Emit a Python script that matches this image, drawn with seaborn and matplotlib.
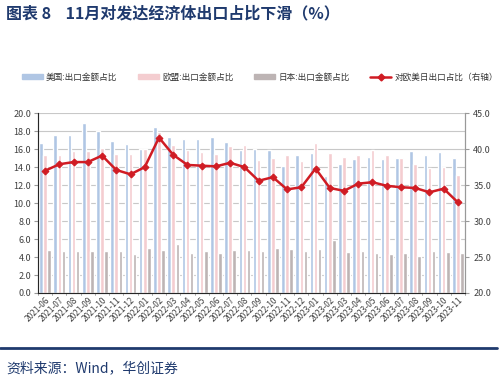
import matplotlib
matplotlib.use("Agg")
import matplotlib.pyplot as plt
import seaborn as sns
import pandas as pd
import numpy as np

months = ['2021-06', '2021-07', '2021-08', '2021-09', '2021-10', '2021-11', '2021-12',
          '2022-01', '2022-02', '2022-03', '2022-04', '2022-05', '2022-06', '2022-07',
          '2022-08', '2022-09', '2022-10', '2022-11', '2022-12', '2023-01', '2023-02',
          '2023-03', '2023-04', '2023-05', '2023-06', '2023-07', '2023-08', '2023-09',
          '2023-10', '2023-11']
us = [16.7, 17.6, 17.6, 18.9, 18.0, 16.9, 16.6, 16.0, 18.5, 17.3, 17.1, 17.1, 17.3, 16.8, 15.9,
      16.0, 15.9, 14.1, 15.3, 15.6, 13.0, 14.4, 14.9, 15.1, 14.9, 15.0, 15.8, 15.4, 15.7, 15.0]
eu = [15.4, 15.4, 15.8, 15.8, 16.1, 15.5, 15.5, 16.0, 17.9, 16.5, 15.9, 15.7, 15.5, 16.3, 16.5,
      14.8, 15.0, 15.4, 14.7, 16.7, 15.6, 15.1, 15.4, 15.9, 15.4, 15.0, 14.4, 13.9, 14.0, 13.1]
jp = [4.8, 4.7, 4.7, 4.7, 4.7, 4.7, 4.3, 5.0, 4.8, 5.4, 4.5, 4.7, 4.5, 4.8, 4.8,
      4.7, 5.0, 4.9, 4.7, 4.9, 5.9, 4.6, 4.7, 4.4, 4.3, 4.5, 4.1, 4.7, 4.6, 4.4]
total = [37.0, 37.9, 38.2, 38.2, 39.1, 37.1, 36.5, 37.5, 41.6, 39.2, 37.8, 37.7, 37.6, 38.1, 37.5,
         35.6, 36.1, 34.4, 34.7, 37.3, 34.6, 34.2, 35.2, 35.4, 34.9, 34.7, 34.6, 34.0, 34.5, 32.6]

series_names = ['美国:出口金额占比', '欧盟:出口金额占比', '日本:出口金额占比']
line_name = '对欧美日出口占比（右轴）'

sns.set_style("white")
plt.rcParams['font.family'] = ['Noto Sans CJK SC', 'DejaVu Sans']

df = pd.DataFrame({
    'month': months * 3,
    'value': us + eu + jp,
    'series': [series_names[0]] * len(months) + [series_names[1]] * len(months) + [series_names[2]] * len(months),
})

colors = ['#b0c6e4', '#f4cdd0', '#bdb4b4']
navy = '#1f3a6e'
tick_color = '#404040'

fig = plt.figure(figsize=(5, 3.81), dpi=100)
ax = fig.add_axes([0.076, 0.231, 0.854, 0.472])

# gridlines drawn first so the bars sit on top
for y in np.arange(2, 20.1, 2):
    ax.axhline(y, color='#c8c8c8', lw=0.8, zorder=0)

sns.barplot(data=df, x='month', y='value', hue='series', palette=colors,
            width=0.86, gap=0.12, ax=ax, legend=False, saturation=1, zorder=2)
ax.set_ylim(0, 20)
ax.set_yticks(np.arange(0, 20.1, 2))
ax.set_yticklabels([f'{v:.1f}' for v in np.arange(0, 20.1, 2)], fontsize=6.5, color=tick_color)
ax.set_xlim(-0.5, len(months) - 0.5)
ax.set_xlabel('')
ax.set_ylabel('')
ax.grid(False)
ax.set_xticks(range(len(months)))
ax.set_xticklabels(months, rotation=45, ha='right', rotation_mode='anchor', fontsize=6, color=tick_color)
ax.tick_params(axis='x', length=0, pad=2)
ax.tick_params(axis='y', length=3, color='#999999', pad=2, direction='out', left=True)
for x in np.arange(-0.5, len(months), 1):
    ax.plot([x, x], [0, -0.25], color='#999999', lw=0.6, clip_on=False)
ax.spines['top'].set_visible(False)
for side in ['left', 'bottom', 'right']:
    ax.spines[side].set_color('#999999')
    ax.spines[side].set_linewidth(0.8)

ax2 = ax.twinx()
sns.lineplot(x=np.arange(len(months)), y=total, ax=ax2, color='#d01c24', lw=1.8,
             marker='D', markersize=3.5, markeredgecolor='#d01c24')
ax2.set_ylim(20, 45)
ax2.set_yticks(np.arange(20, 45.1, 5))
ax2.set_yticklabels([f'{v:.1f}' for v in np.arange(20, 45.1, 5)], fontsize=6.5, color=tick_color)
ax2.tick_params(axis='y', length=3, color='#999999', pad=3, direction='out', right=True)
ax2.spines['top'].set_visible(False)
ax2.spines['right'].set_color('#999999')
ax2.grid(False)

handles = [plt.Rectangle((0, 0), 1, 1, color=c) for c in colors]
handles.append(plt.Line2D([0], [0], color='#d01c24', lw=1.8, marker='D', markersize=3.5))
fig.legend(handles, series_names + [line_name], loc='center', bbox_to_anchor=(0.52, 0.797),
           ncol=4, frameon=False, fontsize=6.2, handlelength=2.4, handleheight=0.5,
           columnspacing=2.4, handletextpad=0.4, labelcolor='#333333')

fig.text(0.012, 0.965, '图表 8    11月对发达经济体出口占比下滑（%）', fontsize=11.5,
         fontweight='bold', color=navy, va='center', ha='left')
fig.add_artist(plt.Line2D([0.0, 0.994], [0.086, 0.086], color=navy, lw=2))
fig.text(0.012, 0.034, '资料来源：Wind，华创证券', fontsize=10, color=navy,
         va='center', ha='left', style='italic')

fig.savefig('out.png', dpi=100)
